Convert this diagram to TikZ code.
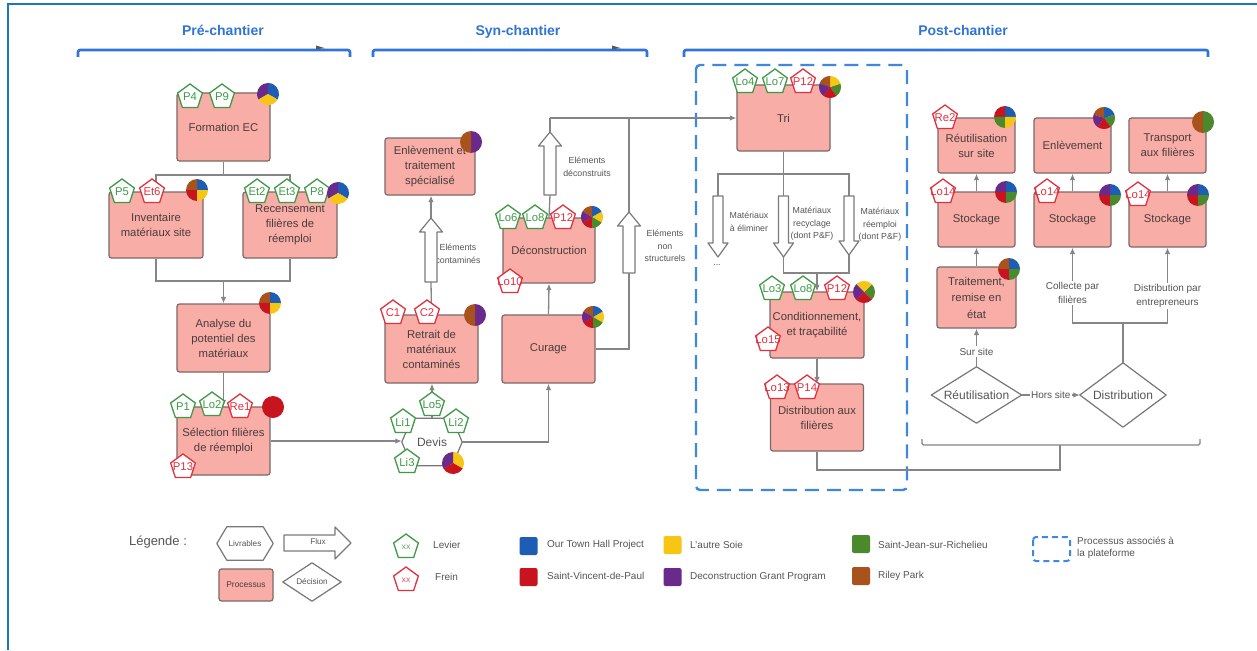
\documentclass[tikz,border=0pt]{standalone}
\usepackage{fontspec}
\setmainfont{Liberation Sans}
\usetikzlibrary{arrows.meta,calc,shapes.geometric}

\definecolor{procf}{HTML}{F8ADA6}
\definecolor{procb}{HTML}{7A6868}
\definecolor{proct}{HTML}{4A3C3C}
\definecolor{bgreen}{HTML}{3E9A45}
\definecolor{bred}{HTML}{E2303F}
\definecolor{conng}{HTML}{858585}
\definecolor{lblg}{HTML}{555555}
\definecolor{shapeg}{HTML}{777777}
\definecolor{fluxg}{HTML}{7A7A7A}
\definecolor{hdrblue}{HTML}{2F74D6}
\definecolor{dashblue}{HTML}{3F88E2}
\definecolor{framec}{HTML}{1C78B4}
\definecolor{pblue}{HTML}{1D5DB3}
\definecolor{pyellow}{HTML}{F7C614}
\definecolor{pred}{HTML}{C8141E}
\definecolor{ppurple}{HTML}{6A2A8C}
\definecolor{pgreen}{HTML}{4B8A2C}
\definecolor{pbrown}{HTML}{A8521C}

% pie: #1 centre, #2 start angle, #3 number of slices, #4 colours
\newcommand{\drawpie}[4]{%
  \foreach \pieC [count=\pieK] in {#4} {%
    \pgfmathsetmacro{\pieA}{#2+(\pieK-1)*360/#3}%
    \pgfmathsetmacro{\pieB}{#2+\pieK*360/#3}%
    \fill[\pieC] (#1) -- ++(\pieA:11pt) arc[start angle=\pieA, end angle=\pieB, radius=11pt] -- cycle;%
  }%
}
% badge: #1 g/r, #2 name, #3 position, #4 text
\newcommand{\bdg}[4]{\node[badge#1] (#2) at (#3) {\makebox[0pt]{#4}};}
% hollow flux arrow: #1 name, #2 tail, #3 tip, #4 body half width, #5 head half width, #6 head length
\newcommand{\fluxarrow}[6]{%
  \coordinate (#1-t) at (#2);
  \coordinate (#1-h) at (#3);
  \coordinate (#1-b) at ($(#1-h)!#6!(#1-t)$);
  \draw[fluxs] ($(#1-t)!#4!90:(#1-h)$) -- ($(#1-b)!#4!90:(#1-h)$) -- ($(#1-b)!#5!90:(#1-h)$)
    -- (#1-h) -- ($(#1-b)!#5!-90:(#1-h)$) -- ($(#1-b)!#4!-90:(#1-h)$) -- ($(#1-t)!#4!-90:(#1-h)$) -- cycle;
}

\begin{document}
\begin{tikzpicture}[x=1pt,y=-1pt,
  proc/.style={draw=procb, fill=procf, rounded corners=2.5pt, line width=1.2pt, align=center, text=proct, font=\fontsize{11.3}{15}\selectfont, inner sep=0pt},
  badgeg/.style={regular polygon, regular polygon sides=5, minimum size=26pt, inner sep=0pt, draw=bgreen, fill=white, line width=1.3pt, text=bgreen, font=\fontsize{11.3}{11.3}\selectfont},
  badger/.style={badgeg, draw=bred, text=bred},
  conn/.style={draw=conng, line width=1.3pt},
  arr/.style={-{Latex[length=6.5pt,width=5.5pt]}},
  lbl/.style={font=\fontsize{8.8}{12.6}\selectfont, text=lblg, align=center, inner sep=1pt},
  lbl2/.style={font=\fontsize{10}{14}\selectfont, text=lblg, align=center, inner sep=1.5pt, fill=white},
  hdr/.style={font=\fontsize{14}{14}\selectfont\bfseries, text=hdrblue, anchor=base},
  brk/.style={draw=hdrblue, line width=2.6pt, rounded corners=2pt},
  fluxs/.style={draw=fluxg, fill=white, line width=1.2pt, line join=round},
  outl/.style={draw=shapeg, line width=1.2pt, line join=round},
  shtext/.style={font=\fontsize{12}{12}\selectfont, text=lblg, inner sep=0pt},
  legt/.style={font=\fontsize{10}{12.5}\selectfont, text=lblg, anchor=west, align=left, inner sep=0pt},
  sq/.style={minimum size=18pt, inner sep=0pt, rounded corners=2pt},
]
\useasboundingbox (0,0) rectangle (1257,650);
\fill[white] (0,0) rectangle (1257,650);

% frame
\draw[framec, line width=2.4pt] (8,650) -- (8,4) -- (1257,4);

% phase headers
\node[hdr] (hpre) at (223,36) {Pré-chantier};
\node[hdr] (hsyn) at (518,36) {Syn-chantier};
\node[hdr] (hpost) at (963,36) {Post-chantier};
\draw[brk] (78,57) -- (78,50) -- (350,50) -- (350,57);
\draw[brk] (373,57) -- (373,50) -- (647,50) -- (647,57);
\draw[brk] (684,57) -- (684,50) -- (1208,50) -- (1208,57);
\fill[black!65] (316,45.5) -- (325,48.2) -- (316,49.2) -- cycle;
\fill[black!65] (612,45.5) -- (621,48.2) -- (612,49.2) -- cycle;

% platform dashed frame
\draw[dashblue, line width=2.4pt, dash pattern=on 14pt off 8pt, rounded corners=4pt] (696,65) rectangle (907,490);

% ---------- labels (drawn before flux arrows) ----------
\node[lbl] (l1) at (458,254) {Eléments\\contaminés};
\node[lbl] (l2) at (587,167) {Eléments\\déconstruits};
\node[lbl] (l3) at (665,246) {Eléments\\non\\structurels};
\node[lbl] (l4) at (749,222) {Matériaux\\à éliminer};
\node[lbl] (l5) at (812,224) {Matériaux\\recyclage\\(dont P\&F)};
\node[lbl] (l6) at (880,225) {Matériaux\\réemploi\\(dont P\&F)};
\node[lbl] (l7) at (717,265) {...};

% ---------- process boxes ----------
\node[proc, minimum width=93pt, minimum height=68pt] (formation) at (223.5,127) {Formation EC};
\node[proc, minimum width=94pt, minimum height=66pt] (inventaire) at (156,225) {Inventaire\\matériaux site};
\node[proc, minimum width=94pt, minimum height=66pt] (recens) at (290,225) {Recensement\\filières de\\réemploi};
\node[proc, minimum width=93pt, minimum height=68pt] (analyse) at (223.5,338) {Analyse du\\potentiel des\\matériaux};
\node[proc, minimum width=93pt, minimum height=68pt] (selection) at (223.5,441) {Sélection filières\\de réemploi};
\node[proc, minimum width=90pt, minimum height=57pt] (enlevspec) at (430,166.5) {Enlèvement et\\traitement\\spécialisé};
\node[proc, minimum width=93pt, minimum height=68pt] (retrait) at (431.5,349) {Retrait de\\matériaux\\contaminés};
\node[proc, minimum width=93pt, minimum height=68pt] (curage) at (548.5,349) {Curage};
\node[proc, minimum width=92pt, minimum height=65pt] (decon) at (549,250.5) {Déconstruction};
\node[proc, minimum width=93pt, minimum height=66pt] (tri) at (783.5,118) {Tri};
\node[proc, minimum width=94pt, minimum height=66pt] (condit) at (817,325) {Conditionnement,\\et traçabilité};
\node[proc, minimum width=93pt, minimum height=67pt] (distfil) at (817,417.5) {Distribution aux\\filières};
\node[proc, minimum width=77pt, minimum height=55pt] (reutsite) at (976.5,145.5) {Réutilisation\\sur site};
\node[proc, minimum width=77pt, minimum height=55pt] (enlev2) at (1072.5,145.5) {Enlèvement};
\node[proc, minimum width=77pt, minimum height=55pt] (transport) at (1167.5,145.5) {Transport\\aux filières};
\node[proc, minimum width=77pt, minimum height=55pt] (stock1) at (976.5,219.5) {Stockage};
\node[proc, minimum width=77pt, minimum height=55pt] (stock2) at (1072.5,219.5) {Stockage};
\node[proc, minimum width=77pt, minimum height=55pt] (stock3) at (1167.5,219.5) {Stockage};
\node[proc, minimum width=79pt, minimum height=61pt, font=\fontsize{11.3}{16.5}\selectfont] (traitement) at (976.5,297.5) {Traitement,\\remise en\\état};

% Devis (livrable)
\node[shtext, minimum width=60pt, minimum height=47pt] (devis) at (432,442) {Devis};
\draw[outl] (devis.west) -- ([xshift=10pt]devis.north west) -- ([xshift=-10pt]devis.north east) -- (devis.east) -- ([xshift=-10pt]devis.south east) -- ([xshift=10pt]devis.south west) -- cycle;

% decisions
\node[shtext, minimum width=90pt, minimum height=56pt] (reutdiam) at (976.5,395) {Réutilisation};
\draw[outl] (reutdiam.west) -- (reutdiam.north) -- (reutdiam.east) -- (reutdiam.south) -- cycle;
\node[shtext, minimum width=86pt, minimum height=64pt] (distdiam) at (1123,395) {Distribution};
\draw[outl] (distdiam.west) -- (distdiam.north) -- (distdiam.east) -- (distdiam.south) -- cycle;

% ---------- connectors ----------
\coordinate (j1) at (223.5,175);
\draw[conn] (formation.south) -- (j1);
\draw[conn] (inventaire.north) |- (j1) -| (recens.north);
\coordinate (j2) at (223.5,281);
\draw[conn] (inventaire.south) |- (j2) -| (recens.south);
\draw[conn,arr] (j2) -- (analyse.north);
\draw[conn,arr] (analyse.south) -- (selection.north);
\draw[conn,arr] (selection.east) -- (selection.east -| devis.west);
\draw[conn,arr] (devis.east) -| (curage.south);
\draw[conn,arr] (devis.north) -- (devis.north |- retrait.south);

\fluxarrow{fa1}{431,282}{431,218}{6pt}{11.5pt}{14pt}
\draw[conn] (retrait.north) -- (fa1-t);
\draw[conn,arr] (fa1-h) -- (fa1-h |- enlevspec.south);

\draw[conn,arr] (curage.north) -- (decon.south);
\fluxarrow{fa2}{550,195}{550,132}{6pt}{11.5pt}{14pt}
\draw[conn] (decon.north) -- (fa2-t);
\coordinate (j3) at (550,118);
\draw[conn] (fa2-h) -- (j3);
\draw[conn,arr] (j3) -- (tri.west);

\fluxarrow{fa3}{629,273}{629,212}{6pt}{11.5pt}{14pt}
\coordinate (j4) at (629,349);
\coordinate (j5) at (629,118);
\draw[conn] (curage.east) -- (j4) -- (fa3-t);
\draw[conn] (fa3-h) -- (j5);

\fluxarrow{fa4}{718,196}{718,257}{5pt}{10pt}{14pt}
\fluxarrow{fa5}{783.5,196}{783.5,257}{5pt}{10pt}{14pt}
\fluxarrow{fa6}{849,196}{849,255}{5pt}{10pt}{14pt}
\coordinate (j6) at (783.5,174);
\draw[conn] (tri.south) -- (j6);
\draw[conn] (fa4-t) |- (j6) -| (fa6-t);
\draw[conn] (j6) -- (fa5-t);
\coordinate (j7) at (817,273);
\draw[conn] (fa5-h) |- (j7) -| (fa6-h);
\draw[conn,arr] (j7) -- (condit.north);
\draw[conn,arr] (condit.south) -- (distfil.north);

\coordinate (j10) at (1060,470);
\coordinate (j11) at (1060,445);
\draw[conn] (distfil.south) |- (j10) -- (j11);
\draw[conn, rounded corners=1.5pt] (922,439) -- (922,445) -- (1200,445) -- (1200,439);

\draw[conn,arr] (stock1.north) -- (reutsite.south);
\draw[conn,arr] (stock2.north) -- (enlev2.south);
\draw[conn,arr] (stock3.north) -- (transport.south);
\draw[conn,arr] (traitement.north) -- (stock1.south);
\draw[conn,arr] (reutdiam.north) -- (traitement.south) node[lbl2, pos=0.4] (lsur) {Sur site};
\draw[conn,arr] (reutdiam.east) -- (distdiam.west) node[lbl2, midway] (lhors) {Hors site};
\coordinate (j12) at (1123,323);
\draw[conn] (distdiam.north) -- (j12);
\draw[conn,arr] (j12) -| (stock2.south) node[lbl2, pos=0.7] (lcol) {Collecte par\\filières};
\draw[conn,arr] (j12) -| (stock3.south) node[lbl2, pos=0.68] (ldist) {Distribution par\\entrepreneurs};

% ---------- badges ----------
\bdg{g}{b1}{190,97}{P4}
\bdg{g}{b2}{222,97}{P9}
\bdg{g}{b3}{122,192}{P5}
\bdg{r}{b4}{152,192}{Et6}
\bdg{g}{b5}{257,192}{Et2}
\bdg{g}{b6}{287,192}{Et3}
\bdg{g}{b7}{317,192}{P8}
\bdg{g}{b8}{183,407}{P1}
\bdg{g}{b9}{212,405}{Lo2}
\bdg{r}{b10}{240,407}{Re1}
\bdg{r}{b11}{183,467}{P13}
\bdg{g}{b12}{432,405}{Lo5}
\bdg{g}{b13}{403,422}{Li1}
\bdg{g}{b14}{456,422}{Li2}
\bdg{g}{b15}{407,462}{Li3}
\bdg{r}{b16}{393,313}{C1}
\bdg{r}{b17}{427,313}{C2}
\bdg{g}{b18}{508,218}{Lo6}
\bdg{g}{b19}{535,218}{Lo8}
\bdg{r}{b20}{563,218}{P12}
\bdg{r}{b21}{510,282}{Lo10}
\bdg{g}{b22}{745,82}{Lo4}
\bdg{g}{b23}{775,82}{Lo7}
\bdg{r}{b24}{803,82}{P12}
\bdg{g}{b25}{772,289}{Lo3}
\bdg{g}{b26}{803,289}{Lo8}
\bdg{r}{b27}{837,289}{P12}
\bdg{r}{b28}{768,340}{Lo15}
\bdg{r}{b29}{777,388}{Lo13}
\bdg{r}{b30}{807,388}{P14}
\bdg{r}{b31}{945,118}{Re2}
\bdg{r}{b32}{943,192}{Lo14}
\bdg{r}{b33}{1047,192}{Lo14}
\bdg{r}{b34}{1138,195}{Lo14}

% ---------- pies ----------
\drawpie{268,94}{-30}{3}{pblue,ppurple,pyellow}
\drawpie{197,190}{0}{4}{pblue,pbrown,pred,pyellow}
\drawpie{338,193}{-30}{3}{pblue,ppurple,pyellow}
\drawpie{270,303}{0}{4}{pblue,pbrown,pred,pyellow}
\drawpie{273,407}{0}{1}{pred}
\drawpie{453,463}{-30}{3}{pyellow,ppurple,pred}
\drawpie{475,315}{-90}{2}{ppurple,pbrown}
\drawpie{471,142}{-90}{2}{ppurple,pbrown}
\drawpie{593,317}{-30}{6}{pyellow,pblue,pbrown,ppurple,pred,pgreen}
\drawpie{592,217}{-30}{6}{pyellow,pblue,pbrown,ppurple,pred,pgreen}
\drawpie{830,87}{-54}{5}{pgreen,pyellow,pbrown,ppurple,pred}
\drawpie{864,292}{-45}{4}{pgreen,pyellow,ppurple,pred}
\drawpie{1005,117}{0}{4}{pblue,pred,pgreen,pyellow}
\drawpie{1104,118}{-54}{5}{pgreen,pblue,pbrown,ppurple,pred}
\drawpie{1203,122}{-90}{2}{pgreen,pbrown}
\drawpie{1006,192}{0}{4}{pblue,ppurple,pred,pgreen}
\drawpie{1110,195}{0}{4}{pblue,ppurple,pred,pgreen}
\drawpie{1198,195}{0}{4}{pblue,ppurple,pred,pgreen}
\drawpie{1009,269}{0}{4}{pblue,pbrown,pred,pgreen}

% ---------- legend ----------
\node[font=\fontsize{13}{13}\selectfont, text=lblg] (leg) at (158,542) {Légende :};
\node[font=\fontsize{8.2}{8.2}\selectfont, text=lblg, minimum width=56pt, minimum height=33pt, inner sep=0pt] (livr) at (245,543.5) {Livrables};
\draw[outl] (livr.west) -- ([xshift=10pt]livr.north west) -- ([xshift=-10pt]livr.north east) -- (livr.east) -- ([xshift=-10pt]livr.south east) -- ([xshift=10pt]livr.south west) -- cycle;
\fluxarrow{lf}{284,543}{351,543}{8pt}{16pt}{16pt}
\node[font=\fontsize{8.2}{8.2}\selectfont, text=lblg] (lfluxt) at (318,542) {Flux};
\node[proc, font=\fontsize{8.4}{9}\selectfont, minimum width=54pt, minimum height=32pt] (lproc) at (246,585) {Processus};
\node[font=\fontsize{8.2}{8.2}\selectfont, text=lblg, minimum width=58pt, minimum height=38pt, inner sep=0pt] (ldec) at (312,582) {Décision};
\draw[outl] (ldec.west) -- (ldec.north) -- (ldec.east) -- (ldec.south) -- cycle;
\bdg{g}{lbg}{406,547}{\fontsize{6.5}{7}\selectfont XX}
\bdg{r}{lbr}{406,580}{\fontsize{6.5}{7}\selectfont XX}
\node[legt] (tlev) at (433,545) {Levier};
\node[legt] (tfre) at (435,577) {Frein};
\node[sq, fill=pblue] (sq1) at (528.5,546) {};
\node[legt] (t1) at (547,545) {Our Town Hall Project};
\node[sq, fill=pred] (sq2) at (528.5,577) {};
\node[legt] (t2) at (547,576) {Saint-Vincent-de-Paul};
\node[sq, fill=pyellow] (sq3) at (672.5,545) {};
\node[legt] (t3) at (690,545) {L'autre Soie};
\node[sq, fill=ppurple] (sq4) at (672.5,577) {};
\node[legt] (t4) at (690,577) {Deconstruction Grant Program};
\node[sq, fill=pgreen] (sq5) at (861,544) {};
\node[legt] (t5) at (878,545) {Saint-Jean-sur-Richelieu};
\node[sq, fill=pbrown] (sq6) at (861,576) {};
\node[legt] (t6) at (878,576) {Riley Park};
\draw[dashblue, line width=2pt, dash pattern=on 6pt off 4pt, rounded corners=3pt] (1033,537) rectangle (1070,561);
\node[legt] (t7) at (1077,548) {Processus associés à\\la plateforme};
\end{tikzpicture}
\end{document}
